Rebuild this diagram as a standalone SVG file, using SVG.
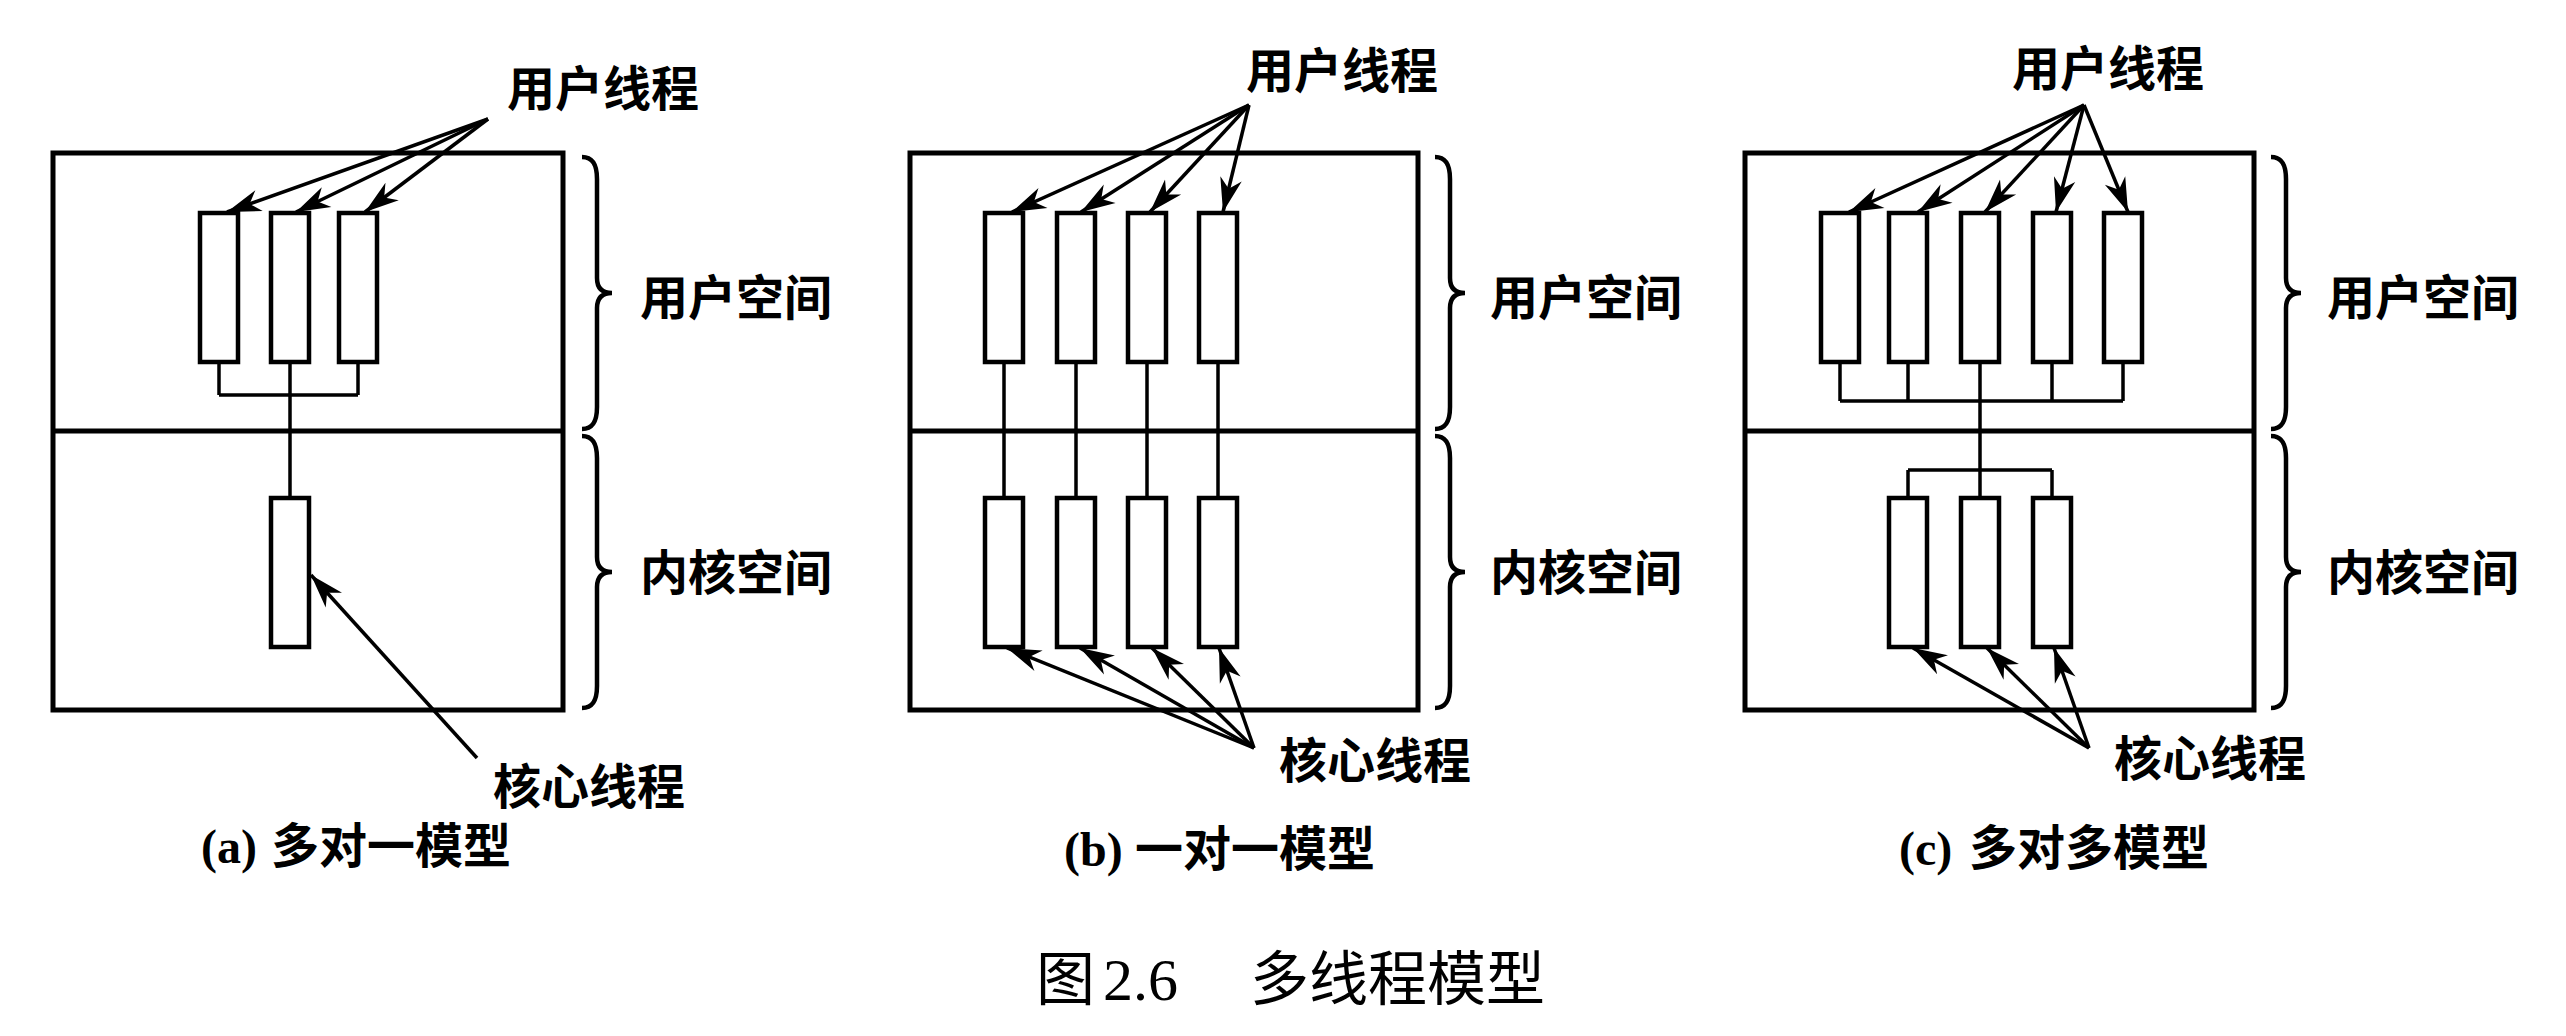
<svg xmlns="http://www.w3.org/2000/svg" width="2566" height="1036" viewBox="0 0 2566 1036">
<style>
.box{fill:none;stroke:#000;stroke-width:5}
.thr{fill:#fff;stroke:#000;stroke-width:4.5}
.ln{fill:none;stroke:#000;stroke-width:3.5}
.arr{fill:none;stroke:#000;stroke-width:3.5;marker-end:url(#ah)}
.br{fill:none;stroke:#000;stroke-width:4.5}
.lbl{font-family:"Noto Sans CJK SC","Noto Sans",sans-serif;font-size:48px;font-weight:700;fill:#000}
.lat{font-family:"Liberation Serif",serif;font-size:48px;font-weight:700;fill:#000}
.cap{font-family:"Noto Sans CJK SC",sans-serif;font-size:59px;fill:#000}
.capn{font-family:"Liberation Serif",serif;font-size:60px;fill:#000}
</style>
<defs>
<marker id="ah" markerUnits="userSpaceOnUse" markerWidth="44" markerHeight="32" viewBox="-36 -16 44 32" refX="0" refY="0" orient="auto">
<path d="M0,0 L-34,-11 L-24,0 L-34,11 Z" fill="#000"/>
</marker>
<path id="brace" d="M0,0 C11,0 15,8 15,22 L15,121 C15,131 20,136 30,136 C20,136 15,141 15,151 L15,250 C15,264 11,272 0,272"/>
</defs>

<rect width="2566" height="1036" fill="#fff"/>

<!-- Panel (a) -->
<g id="panel-a">
<rect class="box" x="53" y="153" width="510" height="557"/>
<line class="box" x1="53" y1="431" x2="563" y2="431"/>
<use href="#brace" class="br" transform="translate(582,157)"/>
<use href="#brace" class="br" transform="translate(582,436)"/>
<text class="lbl" x="640" y="315">用户空间</text>
<text class="lbl" x="640" y="590">内核空间</text>
<text class="lbl" x="507" y="106">用户线程</text>
<text class="lbl" x="493" y="804">核心线程</text>
<text x="201" y="863"><tspan class="lat">(a)</tspan><tspan class="lbl" x="271">多对一模型</tspan></text>
</g>
<g id="a-u1"><rect class="thr" x="200" y="213" width="38" height="149"/></g>
<g id="a-u2"><rect class="thr" x="271" y="213" width="38" height="149"/></g>
<g id="a-u3"><rect class="thr" x="339" y="213" width="38" height="149"/></g>
<g id="a-k1"><rect class="thr" x="271" y="498" width="38" height="149"/></g>

<!-- Panel (b) -->
<g id="panel-b">
<rect class="box" x="910" y="153" width="508" height="557"/>
<line class="box" x1="910" y1="431" x2="1418" y2="431"/>
<use href="#brace" class="br" transform="translate(1435,157)"/>
<use href="#brace" class="br" transform="translate(1435,436)"/>
<text class="lbl" x="1490" y="315">用户空间</text>
<text class="lbl" x="1490" y="590">内核空间</text>
<text class="lbl" x="1246" y="88">用户线程</text>
<text class="lbl" x="1279" y="778">核心线程</text>
<text x="1064" y="866"><tspan class="lat">(b)</tspan><tspan class="lbl" x="1135">一对一模型</tspan></text>
</g>
<g id="b-u1"><rect class="thr" x="985" y="213" width="38" height="149"/></g>
<g id="b-u2"><rect class="thr" x="1057" y="213" width="38" height="149"/></g>
<g id="b-u3"><rect class="thr" x="1128" y="213" width="38" height="149"/></g>
<g id="b-u4"><rect class="thr" x="1199" y="213" width="38" height="149"/></g>
<g id="b-k1"><rect class="thr" x="985" y="498" width="38" height="149"/></g>
<g id="b-k2"><rect class="thr" x="1057" y="498" width="38" height="149"/></g>
<g id="b-k3"><rect class="thr" x="1128" y="498" width="38" height="149"/></g>
<g id="b-k4"><rect class="thr" x="1199" y="498" width="38" height="149"/></g>

<!-- Panel (c) -->
<g id="panel-c">
<rect class="box" x="1745" y="153" width="509" height="557"/>
<line class="box" x1="1745" y1="431" x2="2254" y2="431"/>
<use href="#brace" class="br" transform="translate(2271,157)"/>
<use href="#brace" class="br" transform="translate(2271,436)"/>
<text class="lbl" x="2327" y="315">用户空间</text>
<text class="lbl" x="2327" y="590">内核空间</text>
<text class="lbl" x="2012" y="86">用户线程</text>
<text class="lbl" x="2114" y="776">核心线程</text>
<text x="1899" y="865"><tspan class="lat">(c)</tspan><tspan class="lbl" x="1969">多对多模型</tspan></text>
</g>
<g id="c-u1"><rect class="thr" x="1821" y="213" width="38" height="149"/></g>
<g id="c-u2"><rect class="thr" x="1889" y="213" width="38" height="149"/></g>
<g id="c-u3"><rect class="thr" x="1961" y="213" width="38" height="149"/></g>
<g id="c-u4"><rect class="thr" x="2033" y="213" width="38" height="149"/></g>
<g id="c-u5"><rect class="thr" x="2104" y="213" width="38" height="149"/></g>
<g id="c-k1"><rect class="thr" x="1889" y="498" width="38" height="149"/></g>
<g id="c-k2"><rect class="thr" x="1961" y="498" width="38" height="149"/></g>
<g id="c-k3"><rect class="thr" x="2033" y="498" width="38" height="149"/></g>

<!-- Caption -->
<g id="caption">
<text class="cap" x="1036" y="1000">图</text>
<text class="capn" x="1103" y="1000">2.6</text>
<text class="cap" x="1250" y="1000">多线程模型</text>
</g>

<!-- Connectors -->
<g id="connectors">
<!-- a: many-to-one -->
<path class="ln" d="M219,362 V395 M290,362 V498 M358,362 V395 M219,395 H358"/>
<line class="arr" x1="488" y1="119" x2="227" y2="212"/>
<line class="arr" x1="488" y1="119" x2="296" y2="212"/>
<line class="arr" x1="488" y1="119" x2="365" y2="212"/>
<line class="arr" x1="477" y1="758" x2="311" y2="575"/>
<!-- b: one-to-one -->
<path class="ln" d="M1004,362 V498 M1076,362 V498 M1147,362 V498 M1218,362 V498"/>
<line class="arr" x1="1249" y1="105" x2="1012" y2="212"/>
<line class="arr" x1="1249" y1="105" x2="1081" y2="212"/>
<line class="arr" x1="1249" y1="105" x2="1150" y2="212"/>
<line class="arr" x1="1249" y1="105" x2="1223" y2="212"/>
<line class="arr" x1="1254" y1="748" x2="1007" y2="648"/>
<line class="arr" x1="1254" y1="748" x2="1080" y2="648"/>
<line class="arr" x1="1254" y1="748" x2="1152" y2="648"/>
<line class="arr" x1="1254" y1="748" x2="1219" y2="648"/>
<!-- c: many-to-many -->
<path class="ln" d="M1840,362 V401 M1908,362 V401 M1980,362 V498 M2052,362 V401 M2123,362 V401 M1840,401 H2123 M1908,470 H2052 M1908,470 V498 M2052,470 V498"/>
<line class="arr" x1="2084" y1="105" x2="1849" y2="212"/>
<line class="arr" x1="2084" y1="105" x2="1918" y2="212"/>
<line class="arr" x1="2084" y1="105" x2="1985" y2="212"/>
<line class="arr" x1="2084" y1="105" x2="2056" y2="212"/>
<line class="arr" x1="2084" y1="105" x2="2128" y2="212"/>
<line class="arr" x1="2089" y1="748" x2="1913" y2="648"/>
<line class="arr" x1="2089" y1="748" x2="1987" y2="648"/>
<line class="arr" x1="2089" y1="748" x2="2054" y2="648"/>
</g>
</svg>
